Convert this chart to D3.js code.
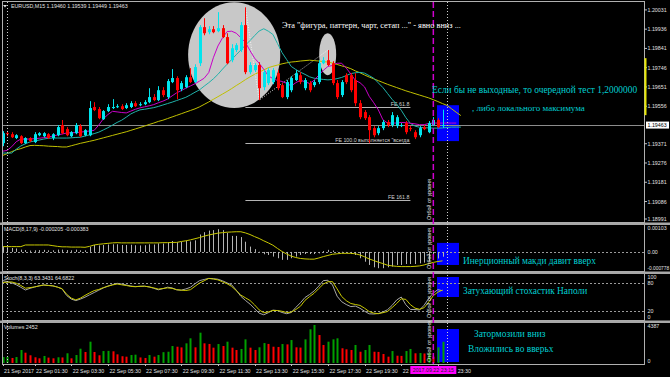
<!DOCTYPE html>
<html>
<head>
<meta charset="utf-8">
<script src="https://cdn.jsdelivr.net/npm/d3@7/dist/d3.min.js"></script>
<style>
  html, body { margin: 0; padding: 0; background: #000; }
  svg { display: block; }
</style>
</head>
<body>
<div id="chart"></div>
<script>
// EURUSD M15, bars from 21 Sep 23:45 to 22 Sep 23:45 (97 bars)
const symbolName = "EURUSD,M15";

const opens = [
  1.19374, 1.19423, 1.19418, 1.19399, 1.19408, 1.19374, 1.19399, 1.19379, 1.19413, 1.19408,
  1.19418, 1.19399, 1.19413, 1.19463, 1.19443, 1.19408, 1.19423, 1.19458, 1.19413, 1.19413,
  1.19552, 1.19542, 1.19492, 1.19532, 1.19547, 1.19552, 1.19556, 1.19547, 1.19552, 1.19571,
  1.19561, 1.19566, 1.19576, 1.19601, 1.19586, 1.19635, 1.19601, 1.19675, 1.19695, 1.19640,
  1.19650, 1.19699, 1.19675, 1.19768, 1.19946, 1.19921, 1.19936, 1.19926, 1.19941, 1.19897,
  1.19783, 1.19833, 1.19833, 1.19956, 1.19724, 1.19734, 1.19759, 1.19650, 1.19670, 1.19675,
  1.19719, 1.19660, 1.19601, 1.19635, 1.19685, 1.19709, 1.19645, 1.19670, 1.19660, 1.19675,
  1.19768, 1.19783, 1.19768, 1.19670, 1.19611, 1.19709, 1.19709, 1.19685, 1.19571, 1.19527,
  1.19502, 1.19448, 1.19423, 1.19448, 1.19478, 1.19463, 1.19458, 1.19458, 1.19473, 1.19448,
  1.19428, 1.19413, 1.19453, 1.19428, 1.19463, 1.19488, 1.19460
];
const highs = [
  1.19433, 1.19433, 1.19428, 1.19418, 1.19413, 1.19403, 1.19403, 1.19428, 1.19428, 1.19428,
  1.19423, 1.19423, 1.19463, 1.19488, 1.19453, 1.19433, 1.19473, 1.19468, 1.19443, 1.19581,
  1.19576, 1.19552, 1.19537, 1.19566, 1.19591, 1.19566, 1.19566, 1.19571, 1.19581, 1.19581,
  1.19576, 1.19586, 1.19645, 1.19616, 1.19655, 1.19650, 1.19690, 1.19739, 1.19704, 1.19680,
  1.19709, 1.19744, 1.19763, 1.19956, 1.19990, 1.19951, 1.19951, 1.20020, 1.19956, 1.19916,
  1.19862, 1.19867, 1.19971, 1.20044, 1.19773, 1.19768, 1.19773, 1.19734, 1.19744, 1.19744,
  1.19734, 1.19670, 1.19685, 1.19704, 1.19734, 1.19724, 1.19695, 1.19680, 1.19685, 1.19783,
  1.19798, 1.19833, 1.19778, 1.19685, 1.19685, 1.19719, 1.19719, 1.19719, 1.19586, 1.19537,
  1.19512, 1.19458, 1.19458, 1.19488, 1.19488, 1.19527, 1.19512, 1.19473, 1.19483, 1.19458,
  1.19438, 1.19458, 1.19463, 1.19483, 1.19502, 1.19497, 1.19539
];
const lows = [
  1.19359, 1.19408, 1.19399, 1.19394, 1.19369, 1.19369, 1.19379, 1.19374, 1.19408, 1.19403,
  1.19394, 1.19389, 1.19408, 1.19418, 1.19408, 1.19403, 1.19418, 1.19403, 1.19408, 1.19408,
  1.19532, 1.19492, 1.19488, 1.19527, 1.19542, 1.19547, 1.19537, 1.19542, 1.19547, 1.19552,
  1.19556, 1.19561, 1.19571, 1.19581, 1.19581, 1.19601, 1.19591, 1.19670, 1.19591, 1.19630,
  1.19645, 1.19670, 1.19670, 1.19754, 1.19906, 1.19911, 1.19916, 1.19921, 1.19892, 1.19763,
  1.19773, 1.19823, 1.19823, 1.19714, 1.19714, 1.19724, 1.19586, 1.19635, 1.19660, 1.19665,
  1.19635, 1.19596, 1.19591, 1.19625, 1.19680, 1.19665, 1.19635, 1.19625, 1.19650, 1.19665,
  1.19763, 1.19754, 1.19660, 1.19591, 1.19601, 1.19665, 1.19625, 1.19556, 1.19492, 1.19488,
  1.19374, 1.19403, 1.19413, 1.19438, 1.19453, 1.19453, 1.19448, 1.19453, 1.19418, 1.19433,
  1.19394, 1.19403, 1.19438, 1.19423, 1.19458, 1.19448, 1.19449
];
const closes = [
  1.19423, 1.19418, 1.19403, 1.19413, 1.19374, 1.19399, 1.19384, 1.19418, 1.19423, 1.19423,
  1.19399, 1.19418, 1.19453, 1.19423, 1.19413, 1.19428, 1.19463, 1.19408, 1.19438, 1.19547,
  1.19537, 1.19497, 1.19532, 1.19552, 1.19552, 1.19556, 1.19542, 1.19561, 1.19571, 1.19556,
  1.19566, 1.19576, 1.19601, 1.19586, 1.19635, 1.19611, 1.19680, 1.19695, 1.19635, 1.19670,
  1.19699, 1.19675, 1.19749, 1.19946, 1.19916, 1.19936, 1.19921, 1.19941, 1.19897, 1.19768,
  1.19842, 1.19857, 1.19956, 1.19724, 1.19759, 1.19759, 1.19645, 1.19724, 1.19734, 1.19734,
  1.19645, 1.19601, 1.19675, 1.19695, 1.19719, 1.19675, 1.19685, 1.19635, 1.19675, 1.19768,
  1.19783, 1.19759, 1.19670, 1.19601, 1.19675, 1.19675, 1.19635, 1.19571, 1.19502, 1.19497,
  1.19438, 1.19413, 1.19448, 1.19478, 1.19463, 1.19512, 1.19502, 1.19463, 1.19428, 1.19443,
  1.19403, 1.19448, 1.19443, 1.19473, 1.19488, 1.19453, 1.19463
];

// moving averages (shifted forward, so they run past the last bar)
const maFast = [
  1.19334, 1.19338, 1.19356, 1.19381, 1.19394, 1.19394, 1.19394, 1.19396, 1.19398, 1.19401,
  1.19404, 1.19409, 1.19414, 1.19419, 1.19424, 1.19425, 1.19426, 1.19428, 1.19431, 1.19434,
  1.19437, 1.19463, 1.19494, 1.19515, 1.19531, 1.19528, 1.19525, 1.19523, 1.19532, 1.19541,
  1.19548, 1.19553, 1.19558, 1.19564, 1.19573, 1.19581, 1.19591, 1.19607, 1.19622, 1.19633,
  1.19645, 1.19656, 1.19667, 1.19680, 1.19694, 1.19722, 1.19795, 1.19853, 1.19893, 1.19924,
  1.19926, 1.19916, 1.19894, 1.19871, 1.19830, 1.19793, 1.19768, 1.19738, 1.19706, 1.19692,
  1.19683, 1.19678, 1.19669, 1.19656, 1.19672, 1.19684, 1.19677, 1.19668, 1.19684, 1.19709,
  1.19733, 1.19752, 1.19757, 1.19768, 1.19768, 1.19744, 1.19715, 1.19683, 1.19672, 1.19651,
  1.19605, 1.19573, 1.19538, 1.19489, 1.19473, 1.19473, 1.19473, 1.19476, 1.19475, 1.19472,
  1.19469, 1.19465, 1.19465, 1.19471, 1.19473, 1.19473, 1.19473, 1.19473, 1.19473, 1.19473
];
const maMid = [
  1.19325, 1.19325, 1.19325, 1.19344, 1.19360, 1.19371, 1.19380, 1.19385, 1.19389, 1.19394,
  1.19398, 1.19399, 1.19399, 1.19399, 1.19399, 1.19400, 1.19402, 1.19403, 1.19409, 1.19415,
  1.19421, 1.19428, 1.19439, 1.19450, 1.19463, 1.19476, 1.19487, 1.19502, 1.19518, 1.19529,
  1.19538, 1.19541, 1.19545, 1.19549, 1.19555, 1.19562, 1.19569, 1.19576, 1.19584, 1.19592,
  1.19600, 1.19612, 1.19625, 1.19637, 1.19655, 1.19672, 1.19691, 1.19713, 1.19739, 1.19763,
  1.19786, 1.19810, 1.19833, 1.19857, 1.19880, 1.19904, 1.19927, 1.19938, 1.19926, 1.19910,
  1.19865, 1.19820, 1.19786, 1.19752, 1.19737, 1.19724, 1.19713, 1.19701, 1.19694, 1.19691,
  1.19688, 1.19686, 1.19688, 1.19692, 1.19698, 1.19707, 1.19717, 1.19721, 1.19723, 1.19719,
  1.19707, 1.19694, 1.19671, 1.19648, 1.19619, 1.19590, 1.19566, 1.19536, 1.19500, 1.19471,
  1.19458, 1.19452, 1.19450, 1.19449, 1.19448, 1.19448, 1.19449, 1.19451, 1.19453, 1.19453,
  1.19453
];
const maSlow = [
  1.19313, 1.19322, 1.19332, 1.19341, 1.19347, 1.19355, 1.19362, 1.19363, 1.19362, 1.19361,
  1.19359, 1.19358, 1.19357, 1.19355, 1.19355, 1.19361, 1.19367, 1.19373, 1.19378, 1.19383,
  1.19388, 1.19394, 1.19400, 1.19406, 1.19412, 1.19418, 1.19424, 1.19430, 1.19437, 1.19444,
  1.19451, 1.19458, 1.19466, 1.19473, 1.19481, 1.19487, 1.19495, 1.19503, 1.19511, 1.19519,
  1.19527, 1.19535, 1.19543, 1.19553, 1.19565, 1.19577, 1.19590, 1.19603, 1.19616, 1.19629,
  1.19643, 1.19658, 1.19672, 1.19687, 1.19701, 1.19713, 1.19724, 1.19735, 1.19746, 1.19753,
  1.19759, 1.19765, 1.19770, 1.19774, 1.19776, 1.19779, 1.19781, 1.19783, 1.19781, 1.19779,
  1.19776, 1.19774, 1.19769, 1.19762, 1.19755, 1.19749, 1.19741, 1.19730, 1.19721, 1.19710,
  1.19700, 1.19691, 1.19682, 1.19673, 1.19664, 1.19656, 1.19648, 1.19640, 1.19632, 1.19625,
  1.19618, 1.19611, 1.19604, 1.19597, 1.19588, 1.19579, 1.19569, 1.19560, 1.19543, 1.19526,
  1.19510
];

// MACD(8,17,9)
const macdMain = [
  0.00022, 0.00020, 0.00017, 0.00015, 0.00010, 0.00008, 0.00006, 0.00007, 0.00008, 0.00009,
  0.00007, 0.00007, 0.00010, 0.00010, 0.00008, 0.00007, 0.00010, 0.00007, 0.00007, 0.00022,
  0.00030, 0.00028, 0.00030, 0.00032, 0.00033, 0.00033, 0.00030, 0.00030, 0.00031, 0.00029,
  0.00028, 0.00029, 0.00033, 0.00032, 0.00037, 0.00036, 0.00042, 0.00047, 0.00042, 0.00043,
  0.00047, 0.00045, 0.00050, 0.00075, 0.00085, 0.00092, 0.00094, 0.00098, 0.00094, 0.00082,
  0.00069, 0.00069, 0.00064, 0.00044, 0.00023, 0.00012, 0.00001, -0.00010, -0.00013, -0.00020,
  -0.00027, -0.00034, -0.00034, -0.00027, -0.00020, -0.00013, -0.00009, -0.00009, -0.00009, -0.00006,
  0.00004, 0.00009, 0.00006, 0.00001, 0.00001, -0.00003, -0.00009, -0.00013, -0.00027, -0.00042,
  -0.00056, -0.00066, -0.00070, -0.00070, -0.00066, -0.00063, -0.00056, -0.00056, -0.00052, -0.00052,
  -0.00052, -0.00049, -0.00046, -0.00042, -0.00035, -0.00028, -0.000205
];
const macdSignal = [
  0.00023, 0.00023, 0.00023, 0.00023, 0.00023, 0.00030, 0.00030, 0.00030, 0.00030, 0.00030,
  0.00030, 0.00027, 0.00024, 0.00022, 0.00022, 0.00021, 0.00021, 0.00021, 0.00020, 0.00024,
  0.00030, 0.00033, 0.00035, 0.00037, 0.00039, 0.00040, 0.00039, 0.00039, 0.00039, 0.00039,
  0.00039, 0.00039, 0.00039, 0.00039, 0.00039, 0.00040, 0.00040, 0.00041, 0.00041, 0.00045,
  0.00048, 0.00052, 0.00057, 0.00062, 0.00068, 0.00073, 0.00077, 0.00081, 0.00083, 0.00085,
  0.00086, 0.00087, 0.00087, 0.00082, 0.00075, 0.00066, 0.00058, 0.00048, 0.00039, 0.00029,
  0.00015, 0.00002, -0.00009, -0.00018, -0.00024, -0.00028, -0.00030, -0.00031, -0.00031, -0.00026,
  -0.00020, -0.00015, -0.00010, -0.00008, -0.00006, -0.00006, -0.00006, -0.00008, -0.00013, -0.00021,
  -0.00030, -0.00037, -0.00044, -0.00050, -0.00057, -0.00060, -0.00062, -0.00063, -0.00063, -0.00063,
  -0.00062, -0.00060, -0.00056, -0.00050, -0.00045, -0.00041, -0.000383
];

// Stoch(8,3,3)
const stochMain = [
  85.2, 82.9, 80.3, 76.0, 70.7, 64.9, 68.5, 71.3, 73.7, 75.6,
  74.7, 73.7, 71.1, 67.2, 53.1, 45.4, 42.2, 45.4, 49.5, 54.6,
  59.5, 64.5, 69.2, 73.2, 76.4, 79.2, 77.7, 75.6, 73.4, 72.2,
  72.8, 73.0, 71.5, 68.5, 65.3, 67.7, 70.9, 69.4, 65.3, 64.5,
  67.2, 70.7, 78.2, 85.0, 87.4, 89.7, 89.1, 88.0, 84.6, 80.1,
  76.0, 64.5, 51.4, 42.6, 34.7, 24.8, 15.2, 11.8, 16.3, 21.8,
  20.8, 16.7, 14.1, 16.7, 27.6, 37.5, 48.8, 55.2, 63.0, 73.2,
  85.0, 85.7, 75.6, 51.6, 39.8, 33.8, 29.3, 30.4, 25.7, 19.5,
  13.9, 13.5, 14.6, 17.8, 22.7, 31.9, 43.5, 49.9, 33.4, 23.3,
  22.9, 22.1, 32.3, 47.1, 58.5, 65.7, 63.3431
];
const stochSignal = [
  80.9, 81.6, 82.2, 79.4, 74.5, 68.7, 70.0, 71.5, 73.7, 75.6,
  74.5, 73.7, 71.1, 67.7, 55.7, 47.5, 43.7, 47.5, 53.3, 58.7,
  63.6, 66.0, 70.0, 73.0, 75.6, 77.7, 76.0, 74.5, 72.6, 71.9,
  72.8, 73.0, 71.5, 69.4, 66.8, 68.1, 69.4, 68.3, 65.5, 64.5,
  63.8, 65.5, 72.8, 79.9, 84.6, 89.7, 88.4, 86.5, 82.4, 78.2,
  72.6, 63.6, 54.0, 48.2, 42.4, 33.0, 22.3, 16.1, 18.0, 21.0,
  21.0, 19.3, 16.7, 17.6, 23.1, 30.0, 42.8, 50.7, 58.0, 67.9,
  77.5, 82.7, 82.7, 67.2, 51.0, 42.0, 36.0, 33.8, 31.9, 25.9,
  18.8, 15.4, 14.1, 16.3, 18.8, 27.2, 36.0, 46.0, 44.8, 33.4,
  26.1, 23.6, 27.0, 39.2, 52.9, 60.4, 64.6822
];

// tick volumes
const volumes = [
  690, 700, 580, 690, 1500, 1190, 890, 660, 540, 810,
  620, 540, 660, 640, 1120, 540, 920, 1650, 1270, 2460,
  1270, 890, 1380, 1400, 1350, 1000, 780, 730, 920, 960,
  640, 580, 920, 730, 920, 1250, 1300, 1960, 1880, 1800,
  2270, 2850, 1810, 3500, 2270, 2200, 1770, 2190, 1960, 2460,
  1770, 1500, 1620, 2730, 1770, 1500, 1810, 2300, 2200, 1880,
  1850, 2190, 2150, 2650, 1810, 1780, 2730, 3890, 4387, 3230,
  2080, 2460, 2730, 2850, 1700, 1580, 1500, 2080, 1300, 1500,
  2080, 1300, 1280, 1040, 730, 1380, 840, 820, 1380, 1620,
  1120, 1150, 1100, 1200, 730, 1810, 2452
];

const priceTicks = [1.20031, 1.19936, 1.19841, 1.19746, 1.19651, 1.19556, 1.19371, 1.19276, 1.19181, 1.19086, 1.18991];
const macdTicks = [0.00103, 0, -0.000778];
const macdTickLabels = ["0.00103", "0.00", "-0.000778"];
const stochTicks = [100, 80, 20, 0];
const stochLevels = [80, 20];
const volumeTicks = [4387, 0];

const timeLabelBars = [0, 7, 15, 23, 31, 39, 47, 55, 63, 71, 79, 87, 95];
const timeLabels = ["21 Sep 2017", "22 Sep 01:30", "22 Sep 03:30", "22 Sep 05:30", "22 Sep 07:30",
  "22 Sep 09:30", "22 Sep 11:30", "22 Sep 13:30", "22 Sep 15:30", "22 Sep 17:30",
  "22 Sep 19:30", "22 Sep 21:30", "22 Sep 23:30"];

const dayBreakBars = [1, 97];
const markerBar = 94;                 // 2017.09.22 23:15
const markerLabel = "2017.09.22 23:15";

// Fibonacci expansion: A, B, C points and the levels it draws
const fePointBars = [53, 56, 71];
const fePointPrices = [1.20044, 1.19586, 1.19833];
const feLevelPrices = [1.19550, 1.19375, 1.19092];
const feLevelLabels = ["FE 61.8", "FE 100.0 выполняется \"всегда", "FE 161.8"];
const feEndBar = 89;

const W = 670, H = 377;
const plotL = 2, plotR = 644;
const panels = {
  main:  { top: 2,   bottom: 222 },
  macd:  { top: 225, bottom: 271 },
  stoch: { top: 274, bottom: 320 },
  vol:   { top: 323, bottom: 364 }
};

const svg = d3.select("#chart").append("svg")
  .attr("width", W).attr("height", H)
  .style("background", "#000");

const x = d3.scaleLinear().domain([0, 96]).range([2.5, 442.5]);
const yMain = d3.scaleLinear().domain([1.18985, 1.20070]).range([panels.main.bottom, panels.main.top]);
const yMacd = d3.scaleLinear().domain([-0.00082, 0.00116]).range([panels.macd.bottom, panels.macd.top]);
const yStoch = d3.scaleLinear().domain([0, 100]).range([320.3, 273.6]);
const yVol = d3.scaleLinear().domain([0, 4387]).range([363, 325]);

const smallFont = "'Liberation Sans', Arial, sans-serif";
const serifFont = "'Liberation Serif', 'Times New Roman', serif";
const bullColor = "#00e5ee", bearColor = "#ff0000";

// clip paths per panel
const defs = svg.append("defs");
Object.entries(panels).forEach(([k, p]) => {
  defs.append("clipPath").attr("id", "clip-" + k)
    .append("rect").attr("x", plotL).attr("y", p.top).attr("width", plotR - plotL).attr("height", p.bottom - p.top);
});
const layer = k => svg.append("g").attr("clip-path", `url(#clip-${k})`);

// ---------- main window ----------
const gMain = layer("main");

// background objects: ellipses and blue box
gMain.append("ellipse")
  .attr("cx", (x(40.5) + x(60.6)) / 2).attr("cy", (yMain(1.20069) + yMain(1.19547)) / 2)
  .attr("rx", (x(60.6) - x(40.5)) / 2).attr("ry", (yMain(1.19547) - yMain(1.20069)) / 2)
  .attr("fill", "#c8c8c8");
gMain.append("ellipse")
  .attr("cx", (x(69.1) + x(72.8)) / 2).attr("cy", (yMain(1.19916) + yMain(1.19709)) / 2)
  .attr("rx", (x(72.8) - x(69.1)) / 2).attr("ry", (yMain(1.19709) - yMain(1.19916)) / 2)
  .attr("fill", "#c8c8c8");
gMain.append("rect")
  .attr("x", x(94.8)).attr("y", yMain(1.19561))
  .attr("width", x(99.6) - x(94.8)).attr("height", yMain(1.19384) - yMain(1.19561))
  .attr("fill", "#0000ff");

// current price line
gMain.append("line")
  .attr("x1", plotL).attr("x2", plotR)
  .attr("y1", Math.round(yMain(closes[96])) + 0.5).attr("y2", Math.round(yMain(closes[96])) + 0.5)
  .attr("stroke", "#8c8c8c");

// FE levels
feLevelPrices.forEach((p, k) => {
  const yy = Math.round(yMain(p)) + 0.5;
  gMain.append("line").attr("x1", x(fePointBars[0])).attr("x2", x(feEndBar))
    .attr("y1", yy).attr("y2", yy).attr("stroke", "#b4b4b4");
  gMain.append("text").attr("x", x(feEndBar) - 1).attr("y", yy - 1.5)
    .attr("text-anchor", "end").attr("font-family", smallFont).attr("font-size", 5.3)
    .attr("fill", "#d0d0d0").text(feLevelLabels[k]);
});
gMain.append("path")
  .attr("d", d3.line()(fePointBars.map((b, k) => [x(b), yMain(fePointPrices[k])])))
  .attr("fill", "none").attr("stroke", "#ffffff").attr("stroke-width", 0.8)
  .attr("stroke-dasharray", "1,1.5");

// moving averages
const maLine = d3.line().x((d, i) => x(i)).y(d => yMain(d));
[[maSlow, "#c0c000"], [maMid, "#20b2aa"], [maFast, "#c800c8"]].forEach(([arr, c]) => {
  gMain.append("path").attr("d", maLine(arr)).attr("fill", "none")
    .attr("stroke", c).attr("stroke-width", 1);
});

// candles
const bars = d3.range(opens.length);
gMain.selectAll("rect.wick").data(bars).join("rect").attr("class", "wick")
  .attr("x", i => Math.round(x(i)))
  .attr("y", i => yMain(highs[i]))
  .attr("width", 1)
  .attr("height", i => Math.max(1, yMain(lows[i]) - yMain(highs[i])))
  .attr("fill", i => closes[i] >= opens[i] ? bullColor : bearColor);
gMain.selectAll("rect.body").data(bars).join("rect").attr("class", "body")
  .attr("x", i => Math.round(x(i)) - 1)
  .attr("y", i => yMain(Math.max(opens[i], closes[i])))
  .attr("width", 3)
  .attr("height", i => Math.max(1, Math.abs(yMain(opens[i]) - yMain(closes[i]))))
  .attr("fill", i => closes[i] >= opens[i] ? bullColor : bearColor);

// ---------- MACD ----------
const gMacd = layer("macd");
gMacd.append("rect").attr("x", x(94.8)).attr("y", yMacd(0.00039))
  .attr("width", x(99.6) - x(94.8)).attr("height", yMacd(-0.00056) - yMacd(0.00039))
  .attr("fill", "#0000ff");
gMacd.append("line").attr("x1", plotL).attr("x2", plotR)
  .attr("y1", Math.round(yMacd(0)) + 0.5).attr("y2", Math.round(yMacd(0)) + 0.5)
  .attr("stroke", "#9a9a9a").attr("stroke-dasharray", "2,2");
gMacd.selectAll("line.hist").data(bars).join("line").attr("class", "hist")
  .attr("x1", i => Math.round(x(i)) + 0.5).attr("x2", i => Math.round(x(i)) + 0.5)
  .attr("y1", yMacd(0)).attr("y2", i => yMacd(macdMain[i]))
  .attr("stroke", "#b4b4b4").attr("stroke-width", 1);
gMacd.append("path").attr("d", d3.line().x((d, i) => x(i)).y(d => yMacd(d))(macdSignal))
  .attr("fill", "none").attr("stroke", "#c8c800").attr("stroke-width", 1);

// ---------- Stochastic ----------
const gStoch = layer("stoch");
gStoch.append("rect").attr("x", x(94.8)).attr("y", yStoch(92.7))
  .attr("width", x(99.6) - x(94.8)).attr("height", yStoch(49.9) - yStoch(92.7))
  .attr("fill", "#0000ff");
stochLevels.forEach(l => {
  gStoch.append("line").attr("x1", plotL).attr("x2", plotR)
    .attr("y1", Math.round(yStoch(l)) + 0.5).attr("y2", Math.round(yStoch(l)) + 0.5)
    .attr("stroke", "#9a9a9a").attr("stroke-dasharray", "2,2");
});
gStoch.append("path").attr("d", d3.line().x((d, i) => x(i)).y(d => yStoch(d))(stochMain))
  .attr("fill", "none").attr("stroke", "#a8a8a8").attr("stroke-width", 1);
gStoch.append("path").attr("d", d3.line().x((d, i) => x(i)).y(d => yStoch(d))(stochSignal))
  .attr("fill", "none").attr("stroke", "#c8c800").attr("stroke-width", 1);

// ---------- Volumes ----------
const gVol = layer("vol");
gVol.append("rect").attr("x", x(94.8)).attr("y", yVol(3924))
  .attr("width", x(99.6) - x(94.8)).attr("height", yVol(115) - yVol(3924))
  .attr("fill", "#0000ff");
gVol.selectAll("rect.vol").data(bars).join("rect").attr("class", "vol")
  .attr("x", i => Math.round(x(i)) - 0.5)
  .attr("y", i => yVol(volumes[i]))
  .attr("width", 2)
  .attr("height", i => yVol(0) - yVol(volumes[i]))
  .attr("fill", i => (i === 0 || volumes[i] > volumes[i - 1]) ? "#00a000" : "#ff0000");

// ---------- frames and separators ----------
Object.values(panels).forEach(p => {
  svg.append("rect").attr("x", plotL + 0.5).attr("y", p.top - 0.5)
    .attr("width", plotR - plotL).attr("height", p.bottom - p.top + 1)
    .attr("fill", "none").attr("stroke", "#b0b0b0").attr("stroke-width", 1);
});
[222, 271, 320].forEach(yy => {
  svg.append("rect").attr("x", 0).attr("y", yy + 0.5).attr("width", W).attr("height", 2.5).attr("fill", "#a8a8a8");
});

// vertical lines across all windows
dayBreakBars.forEach(b => {
  svg.append("line").attr("x1", Math.round(x(b)) + 0.5).attr("x2", Math.round(x(b)) + 0.5)
    .attr("y1", panels.main.top).attr("y2", panels.vol.bottom)
    .attr("stroke", "#d0d0d0").attr("stroke-dasharray", "1,2");
});
svg.append("line").attr("x1", x(markerBar)).attr("x2", x(markerBar))
  .attr("y1", panels.main.top).attr("y2", panels.vol.bottom)
  .attr("stroke", "#d000d0").attr("stroke-width", 1.5).attr("stroke-dasharray", "6,3");
Object.values(panels).forEach(p => {
  svg.append("text")
    .attr("transform", `translate(${x(markerBar) - 2},${p.bottom - 2}) rotate(-90)`)
    .attr("font-family", smallFont).attr("font-size", 5.3).attr("fill", "#e0e0e0")
    .text("Отбой от уровня");
});

// ---------- right scales ----------
const axisText = (yy, t, size = 5.3) => svg.append("text").attr("x", 647.5).attr("y", yy + 2)
  .attr("font-family", smallFont).attr("font-size", size).attr("fill", "#e0e0e0").text(t);
const clampY = (v, p) => Math.min(Math.max(v, p.top + 3), p.bottom - 3);
priceTicks.forEach(v => {
  const yy = clampY(yMain(v), panels.main);
  svg.append("line").attr("x1", plotR).attr("x2", plotR + 3).attr("y1", yy).attr("y2", yy).attr("stroke", "#c0c0c0");
  axisText(yy, v.toFixed(5));
});
macdTicks.forEach((v, k) => axisText(clampY(yMacd(v), panels.macd), macdTickLabels[k], k === 2 ? 4.8 : 5.3));
stochTicks.forEach(v => axisText(clampY(yStoch(v), panels.stoch), String(v)));
volumeTicks.forEach(v => axisText(clampY(yVol(v), panels.vol), String(v)));

// day range strip and current price label
svg.append("rect").attr("x", plotR + 0.5).attr("y", yMain(1.19793))
  .attr("width", 2).attr("height", yMain(1.19512) - yMain(1.19793)).attr("fill", "#e6e600");
const lastY = yMain(closes[96]);
svg.append("rect").attr("x", 646).attr("y", lastY - 3.5).attr("width", 23).attr("height", 7)
  .attr("fill", "#ffffff");
svg.append("text").attr("x", 647.5).attr("y", lastY + 2)
  .attr("font-family", smallFont).attr("font-size", 5.3).attr("fill", "#000").text(closes[96].toFixed(5));

// ---------- time axis ----------
const boxL = x(markerBar) - 23, boxR = x(markerBar) + 23;
timeLabelBars.forEach((b, k) => {
  svg.append("line").attr("x1", Math.round(x(b)) + 0.5).attr("x2", Math.round(x(b)) + 0.5)
    .attr("y1", panels.vol.bottom).attr("y2", panels.vol.bottom + 2).attr("stroke", "#c0c0c0");
  const x0 = x(b) + 1.5;
  const t = svg.append("text").attr("x", x0).attr("y", 372.5)
    .attr("font-family", smallFont).attr("font-size", 5.3).attr("fill", "#e0e0e0").text(timeLabels[k]);
  const node = t.node();
  const full = timeLabels[k];
  if (x0 < boxL && x0 + node.getComputedTextLength() > boxL) {
    // the marker label hides the end of this label
    let s = full;
    while (s.length > 1 && x0 + node.getComputedTextLength() > boxL - 0.5) { s = s.slice(0, -1).trimEnd(); t.text(s); }
  } else if (x0 >= boxL && x0 < boxR) {
    // only the part right of the marker label stays visible
    let shown = null;
    for (let c = 1; c < full.length; c++) {
      if (full[c - 1] === " " && x0 + node.getSubStringLength(0, c) >= boxR) {
        shown = { s: full.slice(c), at: x0 + node.getSubStringLength(0, c) };
        break;
      }
    }
    if (shown) t.attr("x", shown.at).text(shown.s); else t.remove();
  }
});
svg.append("rect").attr("x", boxL).attr("y", 366).attr("width", boxR - boxL).attr("height", 8)
  .attr("fill", "#ff00ff");
svg.append("text").attr("x", x(markerBar)).attr("y", 372.3).attr("text-anchor", "middle")
  .attr("font-family", smallFont).attr("font-size", 5.3).attr("fill", "#202020").text(markerLabel);

// ---------- window titles ----------
svg.append("path").attr("d", "M3,5 L7,5 L5,7.5 Z").attr("fill", "#e0e0e0");
const title = (yy, t) => svg.append("text").attr("x", 9).attr("y", yy)
  .attr("font-family", smallFont).attr("font-size", 5.3).attr("fill", "#e0e0e0").text(t);
title(8, `${symbolName}  ${opens[96].toFixed(5)} ${highs[96].toFixed(5)} ${lows[96].toFixed(5)} ${closes[96].toFixed(5)}`)
  .attr("x", 11);
title(231, `MACD(8,17,9) ${macdMain[96].toFixed(6)} ${macdSignal[96].toFixed(6)}`).attr("x", 4);
title(280, `Stoch(8,3,3) ${stochMain[96].toFixed(4)} ${stochSignal[96].toFixed(4)}`).attr("x", 4);
title(329, `Volumes ${volumes[96]}`).attr("x", 4);

// ---------- comments on the chart ----------
const notes = [
  { text: "Эта \"фигура, паттерн, чарт, сетап ...\" - явно вниз ...", x: 282, y: 28, size: 8.3, color: "#ffffff" },
  { text: "Если бы не выходные, то очередной тест 1,2000000", x: 432, y: 93, size: 9.4, color: "#00ced1" },
  { text: ", либо локального максимума", x: 472, y: 111, size: 9, color: "#00ced1" },
  { text: "Инерционный макди давит вверх", x: 463, y: 264, size: 9.4, color: "#00ced1" },
  { text: "Затухающий стохастик Наполи", x: 463, y: 294, size: 9.4, color: "#00ced1" },
  { text: "Затормозили вниз", x: 474, y: 337, size: 9.4, color: "#00ced1" },
  { text: "Вложились во вверьх", x: 468, y: 352, size: 9.4, color: "#00ced1" }
];
notes.forEach(n => {
  svg.append("text").attr("x", n.x).attr("y", n.y)
    .attr("font-family", serifFont).attr("font-size", n.size).attr("fill", n.color).text(n.text);
});
</script>
</body>
</html>
